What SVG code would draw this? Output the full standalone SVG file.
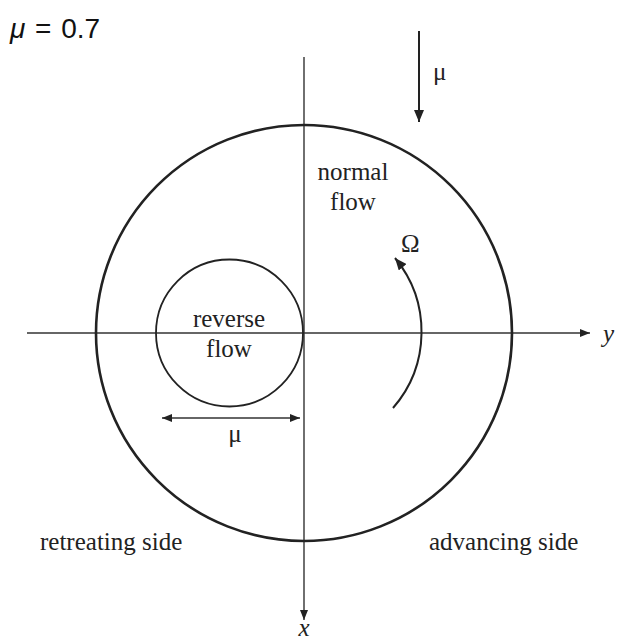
<svg xmlns="http://www.w3.org/2000/svg" width="619" height="643" viewBox="0 0 619 643">
<style>
.t{font-family:"Liberation Serif","Times New Roman",serif;font-size:25px;fill:#222}
.ax{stroke:#333;stroke-width:1.4;fill:none}
</style>
<defs>
<marker id="ah" viewBox="0 0 10 8" refX="10" refY="4" markerWidth="10" markerHeight="8" markerUnits="userSpaceOnUse" orient="auto-start-reverse">
<path d="M0,0 L10,4 L0,8 Z" fill="#222"/>
</marker>
<marker id="ahb" viewBox="0 0 12 10" refX="12" refY="5" markerWidth="12" markerHeight="10" markerUnits="userSpaceOnUse" orient="auto">
<path d="M0,0 L12,5 L0,10 Z" fill="#222"/>
</marker>
</defs>
<rect width="619" height="643" fill="#fff"/>
<text x="10" y="38" font-family="Liberation Sans,Arial,sans-serif" font-size="28" fill="#111" word-spacing="2"><tspan font-style="italic">μ</tspan> = 0.7</text>
<g id="connectors">
<line id="axis-y" class="ax" x1="27" y1="333" x2="590" y2="333" marker-end="url(#ah)" stroke="#555"/>
<line id="axis-x" class="ax" x1="304" y1="57" x2="304" y2="620" marker-end="url(#ah)"/>
<line id="freestream" x1="419" y1="31" x2="419" y2="122" stroke="#222" stroke-width="2" marker-end="url(#ahb)"/>
<line id="mu-dim" class="ax" x1="162" y1="418" x2="300" y2="418" marker-start="url(#ah)" marker-end="url(#ah)"/>
<path id="omega-arc" d="M393,408 A116,116 0 0 0 395,258" fill="none" stroke="#222" stroke-width="2" marker-end="url(#ahb)"/>
</g>
<g id="rotor-disk">
<circle cx="304" cy="333" r="208" fill="none" stroke="#222" stroke-width="2.6"/>
</g>
<g id="reverse-flow">
<circle cx="229.5" cy="333" r="73.5" fill="none" stroke="#222" stroke-width="1.8"/>
<text class="t" x="229" y="327" text-anchor="middle">reverse</text>
<text class="t" x="229" y="357" text-anchor="middle">flow</text>
</g>
<g id="labels">
<text class="t" x="353" y="180" text-anchor="middle">normal</text>
<text class="t" x="353" y="210" text-anchor="middle">flow</text>
<text class="t" x="433" y="80">μ</text>
<text class="t" x="235" y="442" text-anchor="middle">μ</text>
<text class="t" x="401" y="252" font-size="26">Ω</text>
<text class="t" x="40" y="550">retreating side</text>
<text class="t" x="429" y="550">advancing side</text>
<text class="t" x="603" y="342" font-style="italic">y</text>
<text class="t" x="304" y="636" text-anchor="middle" font-style="italic" font-size="22">x</text>
</g>
</svg>
